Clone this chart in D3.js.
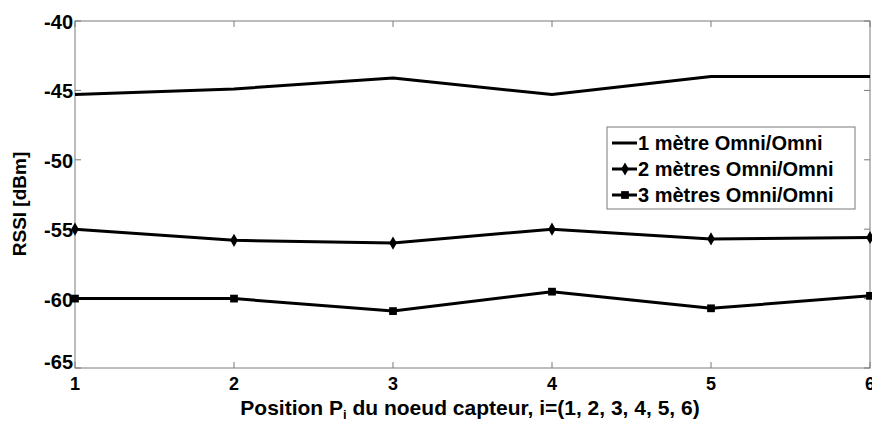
<!DOCTYPE html>
<html><head><meta charset="utf-8">
<script src="https://cdn.jsdelivr.net/npm/d3@7"></script>
<style>body{margin:0;background:#fff;}svg{display:block;font-family:"Liberation Sans",Arial,sans-serif;font-weight:bold;}</style>
</head><body><svg id="c" width="872" height="423"></svg>
<script>
const positions = [1, 2, 3, 4, 5, 6];
const rssi1m = [-45.3, -44.9, -44.1, -45.3, -44.0, -44.0];
const rssi2m = [-55.0, -55.8, -56.0, -55.0, -55.7, -55.6];
const rssi3m = [-60.0, -60.0, -60.9, -59.5, -60.7, -59.8];
const seriesNames = ["1 mètre Omni/Omni", "2 mètres Omni/Omni", "3 mètres Omni/Omni"];
const xTicks = [1, 2, 3, 4, 5, 6];
const yTicks = [-65, -60, -55, -50, -45, -40];

const svg = d3.select("#c");
const L = 75, R = 870, T = 21, B = 368;
const x = d3.scaleLinear().domain([1, 6]).range([L, R]);
const y = d3.scaleLinear().domain([-65, -40]).range([B, T]);
const g = svg.append("g");

// frame
g.append("rect").attr("x", L).attr("y", T).attr("width", R - L).attr("height", B - T)
  .attr("fill", "none").attr("stroke", "#7a7a7a").attr("stroke-width", 1);

// ticks (inner, MATLAB style)
const tl = 6;
xTicks.forEach(v => {
  g.append("line").attr("x1", x(v)).attr("x2", x(v)).attr("y1", B).attr("y2", B - tl).attr("stroke", "#7a7a7a");
  g.append("line").attr("x1", x(v)).attr("x2", x(v)).attr("y1", T).attr("y2", T + tl).attr("stroke", "#7a7a7a");
});
yTicks.forEach(v => {
  g.append("line").attr("x1", L).attr("x2", L + tl).attr("y1", y(v)).attr("y2", y(v)).attr("stroke", "#7a7a7a");
  g.append("line").attr("x1", R).attr("x2", R - tl).attr("y1", y(v)).attr("y2", y(v)).attr("stroke", "#7a7a7a");
});

// tick labels
g.selectAll(".xl").data(xTicks).enter().append("text")
  .attr("x", d => x(d)).attr("y", B + 22).attr("text-anchor", "middle")
  .attr("font-size", 18).attr("fill", "#000").text(d => d);
g.selectAll(".yl").data(yTicks).enter().append("text")
  .attr("x", L - 2).attr("y", d => d === -65 ? y(d) + 1 : y(d) + 8).attr("text-anchor", "end")
  .attr("font-size", 20).attr("fill", "#000").text(d => d);

// axis labels
const xl = g.append("text").attr("x", 470).attr("y", 415).attr("text-anchor", "middle")
  .attr("font-size", 21).attr("fill", "#000");
xl.append("tspan").text("Position P");
xl.append("tspan").attr("font-size", 13).attr("dy", 4).text("i");
xl.append("tspan").attr("dy", -4).text(" du noeud capteur, i=(1, 2, 3, 4, 5, 6)");

g.append("text").attr("transform", "translate(26,204) rotate(-90)")
  .attr("text-anchor", "middle").attr("font-size", 19).attr("fill", "#000").text("RSSI [dBm]");

// lines
const line = d3.line().x((d, i) => x(positions[i])).y(d => y(d));
const series = [rssi1m, rssi2m, rssi3m];
series.forEach(s => {
  g.append("path").datum(s).attr("d", line).attr("fill", "none").attr("stroke", "#000")
    .attr("stroke-width", 3).attr("stroke-linejoin", "round");
});
const diamond = d3.symbol().type(d3.symbolDiamond).size(50);
const square = d3.symbol().type(d3.symbolSquare).size(60);
rssi2m.forEach((v, i) => g.append("path").attr("d", diamond).attr("transform", `translate(${x(positions[i])},${y(v)})`).attr("fill", "#000"));
rssi3m.forEach((v, i) => g.append("path").attr("d", square).attr("transform", `translate(${x(positions[i])},${y(v)})`).attr("fill", "#000"));

// legend
const lx = 607, ly = 127, lw = 248, lh = 82;
g.append("rect").attr("x", lx).attr("y", ly).attr("width", lw).attr("height", lh)
  .attr("fill", "#fff").attr("stroke", "#7a7a7a").attr("stroke-width", 1);
seriesNames.forEach((n, i) => {
  const yy = ly + 16 + i * 26;
  g.append("line").attr("x1", lx + 5).attr("x2", lx + 30).attr("y1", yy).attr("y2", yy).attr("stroke", "#000").attr("stroke-width", 3);
  if (i === 1) g.append("path").attr("d", diamond).attr("transform", `translate(${lx + 18},${yy})`).attr("fill", "#000");
  if (i === 2) g.append("path").attr("d", square).attr("transform", `translate(${lx + 18},${yy})`).attr("fill", "#000");
  g.append("text").attr("x", lx + 31).attr("y", yy + 7).attr("font-size", 20).attr("fill", "#000").text(n);
});
</script></body></html>
